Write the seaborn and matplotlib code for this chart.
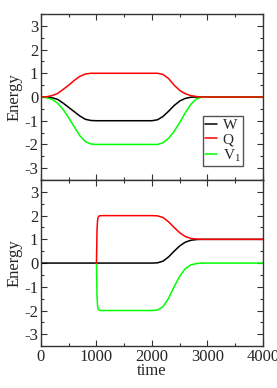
import pandas as pd
import matplotlib
matplotlib.use("Agg")
import matplotlib.pyplot as plt
from matplotlib.ticker import MultipleLocator
import seaborn as sns

# Top panel
t_top = [0, 100, 200, 300, 400, 500, 600, 700, 800, 900, 1000,
         2000, 2100, 2200, 2300, 2400, 2500, 2600, 2700, 2800, 2900, 3000, 4000]
w_top = [0, -0.01, -0.03, -0.10, -0.26, -0.44, -0.62, -0.80, -0.94, -0.99, -1.0,
         -1.0, -0.96, -0.82, -0.60, -0.36, -0.17, -0.06, -0.01, 0, 0, 0, 0]
q_top = [0, 0.01, 0.06, 0.15, 0.32, 0.50, 0.70, 0.87, 0.97, 1.0, 1.0,
         1.0, 1.0, 0.95, 0.78, 0.50, 0.28, 0.14, 0.06, 0.02, 0, 0, 0]
v_top = [0, -0.03, -0.10, -0.26, -0.53, -0.88, -1.26, -1.63, -1.88, -1.98, -2.0,
         -2.0, -2.0, -1.93, -1.74, -1.45, -1.08, -0.67, -0.31, -0.08, -0.01, 0, 0]

# Bottom panel
t_bot_w = [0, 1000, 2000, 2100, 2200, 2300, 2400, 2500, 2600, 2700, 2800, 2900, 3000, 4000]
w_bot = [0, 0, 0, 0.01, 0.08, 0.26, 0.50, 0.72, 0.88, 0.96, 0.99, 1.0, 1.0, 1.0]
t_bot_qv = [1000, 1010, 1020, 1030, 1050, 1100, 2000, 2100, 2200, 2300, 2400,
            2500, 2600, 2700, 2800, 2900, 3000, 4000]
q_bot = [0, 1.4, 1.8, 1.93, 1.99, 2.0, 2.0, 1.99, 1.92, 1.74, 1.50,
         1.28, 1.12, 1.04, 1.01, 1.0, 1.0, 1.0]
v_bot = [0, -1.4, -1.8, -1.93, -1.99, -2.0, -2.0, -1.98, -1.84, -1.48, -1.0,
         -0.56, -0.24, -0.08, -0.02, 0, 0, 0]

sns.set_theme(style="ticks")
plt.rcParams["font.family"] = ["Liberation Serif", "DejaVu Serif"]
plt.rcParams["mathtext.fontset"] = "custom"
plt.rcParams["mathtext.rm"] = "Liberation Serif"
plt.rcParams["axes.unicode_minus"] = False

fig = plt.figure(figsize=(2.77, 3.88), dpi=100)
ax1 = fig.add_axes([0.148, 0.536, 0.801, 0.428])
ax2 = fig.add_axes([0.148, 0.108, 0.801, 0.428])

lw = 1.1
sns.lineplot(x=t_top, y=w_top, color="black", lw=lw, ax=ax1, label="W")
sns.lineplot(x=t_top, y=v_top, color="#00ff00", lw=lw, ax=ax1, label="V$_\\mathrm{1}$")
sns.lineplot(x=t_top, y=q_top, color="#ff0000", lw=lw, ax=ax1, label="Q")

sns.lineplot(x=t_bot_w, y=w_bot, color="black", lw=lw, ax=ax2)
sns.lineplot(x=t_bot_qv, y=v_bot, color="#00ff00", lw=lw, ax=ax2)
sns.lineplot(x=t_bot_qv, y=q_bot, color="#ff0000", lw=lw, ax=ax2)

for ax in (ax1, ax2):
    ax.set_xlim(0, 4000)
    ax.set_ylim(-3.5, 3.5)
    ax.set_yticks([-3, -2, -1, 0, 1, 2, 3])
    ax.xaxis.set_major_locator(MultipleLocator(1000))
    ax.xaxis.set_minor_locator(MultipleLocator(500))
    ax.yaxis.set_minor_locator(MultipleLocator(0.5))
    ax.tick_params(which="both", direction="in", top=True, right=True,
                   width=0.8, labelsize=12, pad=2, color="#333333")
    ax.tick_params(which="major", length=4)
    ax.tick_params(which="minor", length=2.5)
    for s in ax.spines.values():
        s.set_linewidth(1.0)
        s.set_color("#333333")
    ax.set_ylabel("Energy", fontsize=12, labelpad=1)

ax1.tick_params(labelbottom=False)
ax1.set_xlabel("")
ax2.set_xlabel("time", fontsize=12, labelpad=-1)

h, l = ax1.get_legend_handles_labels()
order = [0, 2, 1]
leg = ax1.legend([h[i] for i in order], [l[i] for i in order],
                 loc="lower right", bbox_to_anchor=(0.91, 0.084), borderaxespad=0,
                 fontsize=11, handlelength=0.8, handletextpad=0.35, labelspacing=0.05,
                 borderpad=0.15, fancybox=False, framealpha=1, edgecolor="#555555")
leg.get_frame().set_linewidth(1.0)

fig.savefig("out.png", dpi=100)
